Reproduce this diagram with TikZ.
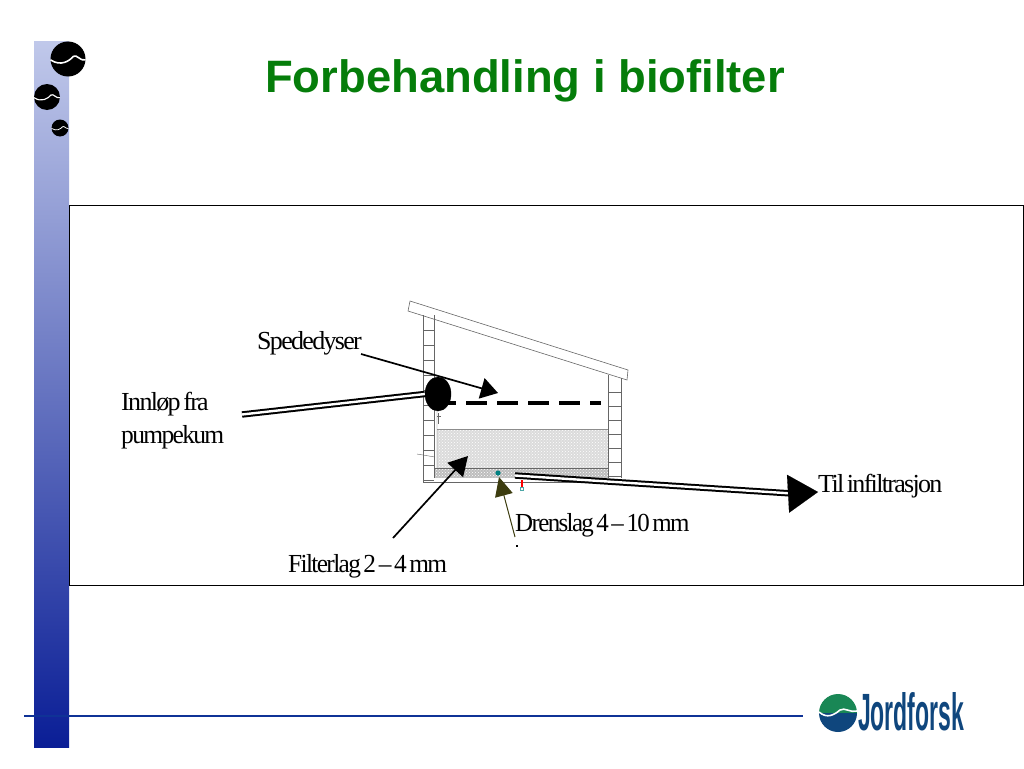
\documentclass[tikz,border=0pt]{standalone}
\usepackage{fontspec}
\setmainfont{Liberation Serif}
\newfontfamily\titlefont{Liberation Sans}
\newfontfamily\labelfont[LetterSpace=-6.5,WordSpace=0.55]{Liberation Serif}
\usetikzlibrary{arrows.meta,patterns,shapes.geometric}
\definecolor{titlegreen}{RGB}{5,125,10}
\definecolor{barlight}{RGB}{192,200,234}
\definecolor{bardark}{RGB}{10,30,150}
\definecolor{linkblue}{RGB}{15,50,150}
\definecolor{logogreen}{RGB}{25,135,85}
\definecolor{logoblue}{RGB}{15,70,125}
\definecolor{olivetip}{RGB}{60,60,15}
\tikzset{
    lbl/.style={anchor=base west, inner sep=0pt, font=\fontsize{26}{26}\labelfont},
    wall/.style={draw=black!60, line width=0.6pt},
    pointer/.style={draw=black, line width=1.7pt},
    pipeline/.style={draw=black, line width=2pt, double=white, double distance=2.4pt},
}
\begin{document}
\begin{tikzpicture}[x=1pt,y=-1pt]
    \useasboundingbox (0,0) rectangle (1024,768);

    % side bar and bottom rule
    \shade[top color=barlight, bottom color=bardark] (34,42) rectangle (69,747);
    \draw[linkblue, line width=2.8pt] (24,716) -- (803,716);

    % bubbles on the bar
    \foreach \cx/\cy/\r in {68/59/17.5, 47/97/13, 60/128/8.5}{
        \fill[black] (\cx,\cy) circle (\r);
        \draw[white, line width=0.09*\r pt] (\cx-\r,\cy+0.05*\r) .. controls (\cx-0.4*\r,\cy+0.45*\r) and (\cx+0.1*\r,\cy+0.1*\r) .. (\cx+0.3*\r,\cy-0.15*\r) .. controls (\cx+0.5*\r,\cy-0.3*\r) and (\cx+0.7*\r,\cy+0.15*\r) .. (\cx+\r,\cy+0.05*\r);
    }

    \node[font=\fontsize{45.4}{45.4}\titlefont\bfseries, text=titlegreen, anchor=base] (title) at (525,92) {Forbehandling i biofilter};

    % frame
    \draw[black, line width=0.7pt] (69,205) rectangle (1023.6,585);

    % filter layers
    \fill[gray!28] (437,429) rectangle (609,468);
    \fill[pattern=crosshatch dots, pattern color=white] (437,429) rectangle (609,468);
    \draw[black!45, line width=0.5pt] (437,429) -- (609,429);
    \fill[gray!52] (434,468) rectangle (609,478);
    \fill[pattern=crosshatch dots, pattern color=white] (434,468) rectangle (609,478);
    \draw[black!60, line width=0.6pt] (434,468) -- (609,468);

    % building
    \draw[wall] (410,301) -- (628,370) -- (627,380) -- (408,311) -- cycle;
    \draw[wall] (423,315) -- (423,482) -- (612,482) (434,315) -- (434,478);
    \draw[wall] (608,375) -- (608,478) (621,378) -- (621,478);
    \foreach \yy in {330,345,...,480}{
        \draw[wall, line width=0.4pt] (423,\yy) -- (434,\yy);
    }
    \foreach \yy in {392,406,...,476}{
        \draw[wall, line width=0.4pt] (608,\yy) -- (621,\yy);
    }
    \draw[wall, line width=0.4pt] (437,411) -- (437,468) (417,454) -- (435,457);
    \draw[wall, line width=0.4pt] (438,413) -- (438,424) (437,416) -- (441,416);

    % small fittings
    \fill[red] (520.5,480) rectangle (523,487);
    \draw[teal!70, line width=0.5pt] (520.5,487) rectangle (523,490);
    \fill[teal] (498,473) circle (2.6);

    % nodes
    \coordinate (nozzlestart) at (435,403);
    \coordinate (nozzleend) at (601,403);
    \draw[black, line width=3.4pt, dash pattern=on 20.5pt off 10.5pt] (nozzlestart) -- (nozzleend);
    \node[draw=black, fill=black, ellipse, minimum width=26, minimum height=34, inner sep=0pt] (inlet) at (438,394) {};

    \node[lbl] (spreder) at (257,349.5) {Spededyser};
    \node[lbl] (innlop) at (121,410) {Innløp fra};
    \node[lbl, xscale=0.98] (pumpe) at (121,443) {pumpekum};
    \node[lbl] (infil) at (818,492) {Til infiltrasjon};
    \node[lbl, xscale=0.96] (dren) at (515,531) {Drenslag 4 – 10 mm};
    \node[lbl, xscale=0.975] (filter) at (288,572) {Filterlag 2 – 4 mm};
    \fill[black] (516,545) rectangle (518,547);

    % connectors
    \coordinate (pipein) at (242,414.5);
    \coordinate (spredertail) at (361,354);
    \coordinate (spredertip) at (498,393);
    \coordinate (filtertail) at (393,538);
    \coordinate (filtertip) at (468,456);
    \coordinate (drentail) at (515,537);
    \coordinate (drentip) at (499,477);
    \coordinate (pipeout) at (515,475.5);
    \coordinate (pipeend) at (792,493.5);

    \draw[pipeline] (pipein) -- (inlet.west);
    \draw[pipeline] (pipeout) -- (pipeend);
    \draw[black, -{Triangle[length=30,width=38]}, line width=0.1pt] (pipeend) -- (infil.base west);
    \draw[pointer, -{Triangle[length=17,width=21]}] (spredertail) -- (spredertip);
    \draw[pointer, -{Triangle[length=19,width=21]}] (filtertail) -- (filtertip);
    \draw[olivetip, line width=1pt, -{Triangle[length=19,width=18]}] (drentail) -- (drentip);

    % logo
    \fill[logogreen] (819,713) arc[start angle=180, end angle=360, radius=19] -- cycle;
    \fill[logoblue] (819,713) arc[start angle=180, end angle=0, radius=19] -- cycle;
    \draw[white, line width=1.6pt] (819,712) .. controls (827,719) and (834,715) .. (840,710) .. controls (845,707) and (850,713) .. (857,711);
    \node[anchor=base west, inner sep=0pt, xscale=0.5, yscale=1.14, text=logoblue, font=\fontsize{46}{46}\titlefont\bfseries] (brand) at (858,730) {Jordforsk};
\end{tikzpicture}
\end{document}
